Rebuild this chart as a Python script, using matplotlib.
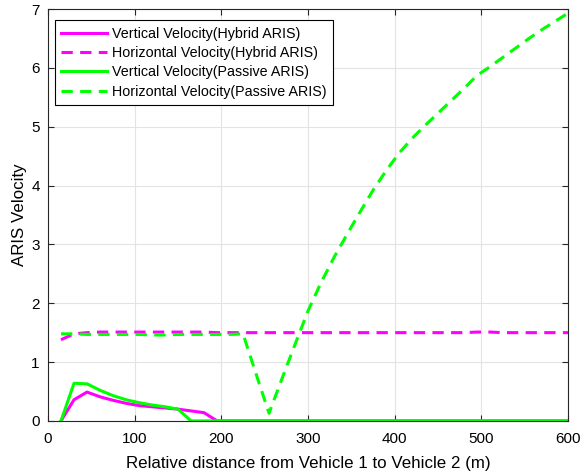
import numpy as np
import matplotlib
matplotlib.use("Agg")
import matplotlib.pyplot as plt

# -----------------------
# Data
# -----------------------
distance = list(range(15, 601, 15))

vert_hybrid = [0, 0.36, 0.49, 0.41, 0.35, 0.30, 0.26, 0.24, 0.22, 0.20,
               0.17, 0.14, 0] + [0] * 27
horiz_hybrid = [1.38, 1.48, 1.50, 1.51, 1.51, 1.51, 1.51, 1.51, 1.51, 1.51,
                1.51, 1.51, 1.50, 1.50, 1.50, 1.50, 1.50, 1.50, 1.50, 1.50,
                1.50, 1.50, 1.50, 1.50, 1.50, 1.50, 1.50, 1.50, 1.50, 1.50,
                1.50, 1.50, 1.51, 1.51, 1.50, 1.50, 1.50, 1.50, 1.50, 1.50]
vert_passive = [0, 0.64, 0.63, 0.52, 0.43, 0.36, 0.31, 0.27, 0.24, 0.20,
                0] + [0] * 29
horiz_passive = [1.48, 1.48, 1.47, 1.47, 1.47, 1.47, 1.47, 1.46, 1.46, 1.47,
                 1.47, 1.47, 1.47, 1.47, 1.48, 0.80, 0.13, 0.72, 1.30, 1.87,
                 2.35, 2.78, 3.17, 3.55, 3.92, 4.25, 4.55, 4.80, 5.02, 5.23,
                 5.44, 5.65, 5.87, 6.02, 6.18, 6.34, 6.50, 6.65, 6.79, 6.93]

labels = ['Vertical Velocity(Hybrid ARIS)', 'Horizontal Velocity(Hybrid ARIS)',
          'Vertical Velocity(Passive ARIS)', 'Horizontal Velocity(Passive ARIS)']

# -----------------------
# Plot
# -----------------------
plt.rcParams['font.family'] = ['Liberation Sans', 'DejaVu Sans']

fig = plt.figure(figsize=(5.82, 4.74), dpi=100)
ax = fig.add_axes([0.0825, 0.112, 0.8935, 0.869])

mag = '#ff00ff'
grn = '#00ff00'
dash = (3.7, 2.4)
ax.plot(distance, vert_hybrid, '-', color=mag, lw=2.2, label=labels[0])
ax.plot(distance, horiz_hybrid, '--', color=mag, lw=2.2, label=labels[1], dashes=dash)
ax.plot(distance, vert_passive, '-', color=grn, lw=2.2, label=labels[2])
ax.plot(distance, horiz_passive, '--', color=grn, lw=2.2, label=labels[3], dashes=dash)

ax.set_xlim(0, 600)
ax.set_ylim(0, 7)
ax.set_xticks(range(0, 601, 100))
ax.set_yticks(range(0, 8))
ax.grid(True, color='#e3e3e3', lw=0.8)
ax.set_axisbelow(True)
ax.tick_params(direction='in', top=True, right=True, labelsize=11,
               length=4, width=0.8, color='#262626')
ax.tick_params(axis='x', pad=8)
ax.tick_params(axis='y', pad=6)
for s in ax.spines.values():
    s.set_color('#262626')
    s.set_linewidth(0.8)

ax.set_xlabel('Relative distance from Vehicle 1 to Vehicle 2 (m)', fontsize=12.2, labelpad=7)
ax.set_ylabel('ARIS Velocity', fontsize=12.2, labelpad=3)

leg = ax.legend(loc='upper left', bbox_to_anchor=(0.0135, 0.973), borderaxespad=0,
                fontsize=10.3, handlelength=3.2, fancybox=False,
                framealpha=1, edgecolor='black', borderpad=0.45, labelspacing=0.38,
                handletextpad=0.3)
leg.get_frame().set_linewidth(0.8)

plt.savefig('out.png', dpi=100)
